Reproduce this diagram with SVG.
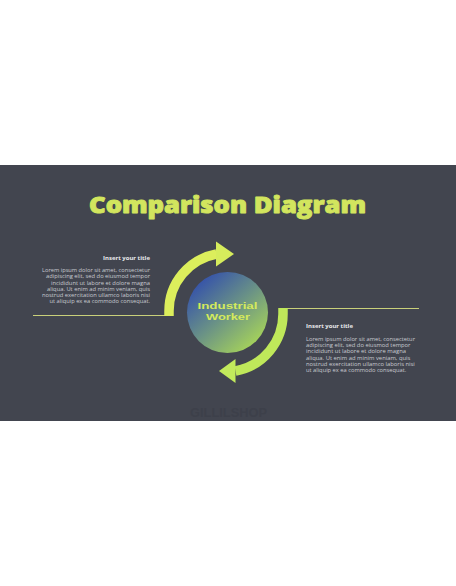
<svg xmlns="http://www.w3.org/2000/svg" width="456" height="586" viewBox="0 0 456 586">
<defs>
<linearGradient id="cg" x1="0.15" y1="0.1" x2="0.85" y2="0.9">
<stop offset="0" stop-color="#3552aa"/>
<stop offset="0.5" stop-color="#6a9286"/>
<stop offset="1" stop-color="#a6d35a"/>
</linearGradient>
<style>
.bg{fill:#42454f}
.title{font-family:"Open Sans","Liberation Sans",sans-serif;font-weight:800;font-size:22px;fill:#d2e55e;stroke:#d2e55e;stroke-width:0.9;stroke-linejoin:round}
.ct{font-family:"Liberation Sans",sans-serif;font-weight:700;font-size:9px;fill:#d4ea5c}
.h{font-family:"Open Sans","Liberation Sans",sans-serif;font-weight:700;font-size:5.3px;fill:#e8e9ec}
.b{font-family:"Open Sans","Liberation Sans",sans-serif;font-size:4.8px;fill:#c9cbd1}
.ln{stroke:#c9d07a;stroke-width:1;fill:none}
.band{fill:none;stroke-width:9.5}
.wm{font-family:"Liberation Sans",sans-serif;font-weight:700;font-size:12.5px;fill:#3d404a}
</style>
</defs>
<rect x="0" y="0" width="456" height="586" fill="#ffffff"/>
<rect class="bg" x="0" y="165" width="456" height="256"/>
<text id="title" class="title" x="227.5" y="212.5" text-anchor="middle" textLength="277" lengthAdjust="spacingAndGlyphs">Comparison Diagram</text>
<g id="connectors">
<path class="ln" d="M33,315.5 H165"/>
<path class="ln" d="M287,308.5 H419"/>
<path class="band" stroke="#dcee5c" d="M169,316 L169,311 A58,58 0 0 1 216.5,254"/>
<polygon fill="#d6ec5c" points="216,241.5 234,254 216,266.5"/>
<path class="band" stroke="#bfe85a" d="M283,308 L283,314 A58,58 0 0 1 235.5,371"/>
<polygon fill="#c2ea5c" points="235.5,359 219,371 235.5,383"/>
</g>
<g id="center">
<circle cx="227.5" cy="312.5" r="40.5" fill="url(#cg)"/>
<text class="ct" x="227.5" y="309.3" text-anchor="middle" textLength="60" lengthAdjust="spacingAndGlyphs">Industrial</text>
<text class="ct" x="228" y="319.8" text-anchor="middle" textLength="44" lengthAdjust="spacingAndGlyphs">Worker</text>
</g>
<g id="left-text" text-anchor="end">
<text class="h" x="150" y="260" textLength="47" lengthAdjust="spacingAndGlyphs">Insert your title</text>
<text class="b" x="150" y="272" textLength="108" lengthAdjust="spacingAndGlyphs">Lorem ipsum dolor sit amet, consectetur</text>
<text class="b" x="150" y="278.3" textLength="104" lengthAdjust="spacingAndGlyphs">adipiscing elit, sed do eiusmod tempor</text>
<text class="b" x="150" y="284.5" textLength="99" lengthAdjust="spacingAndGlyphs">incididunt ut labore et dolore magna</text>
<text class="b" x="150" y="290.8" textLength="103" lengthAdjust="spacingAndGlyphs">aliqua. Ut enim ad minim veniam, quis</text>
<text class="b" x="150" y="297" textLength="108" lengthAdjust="spacingAndGlyphs">nostrud exercitation ullamco laboris nisi</text>
<text class="b" x="150" y="303.3" textLength="100.5" lengthAdjust="spacingAndGlyphs">ut aliquip ex ea commodo consequat.</text>
</g>
<g id="right-text">
<text class="h" x="306" y="328" textLength="47" lengthAdjust="spacingAndGlyphs">Insert your title</text>
<text class="b" x="306" y="341" textLength="109" lengthAdjust="spacingAndGlyphs">Lorem ipsum dolor sit amet, consectetur</text>
<text class="b" x="306" y="347.2" textLength="104.5" lengthAdjust="spacingAndGlyphs">adipiscing elit, sed do eiusmod tempor</text>
<text class="b" x="306" y="353.4" textLength="100" lengthAdjust="spacingAndGlyphs">incididunt ut labore et dolore magna</text>
<text class="b" x="306" y="359.7" textLength="104.3" lengthAdjust="spacingAndGlyphs">aliqua. Ut enim ad minim veniam, quis</text>
<text class="b" x="306" y="366" textLength="108.7" lengthAdjust="spacingAndGlyphs">nostrud exercitation ullamco laboris nisi</text>
<text class="b" x="306" y="372.3" textLength="100.3" lengthAdjust="spacingAndGlyphs">ut aliquip ex ea commodo consequat.</text>
</g>
<text id="watermark" class="wm" x="228.5" y="416.5" text-anchor="middle" textLength="77" lengthAdjust="spacingAndGlyphs">GILLILSHOP</text>
</svg>
